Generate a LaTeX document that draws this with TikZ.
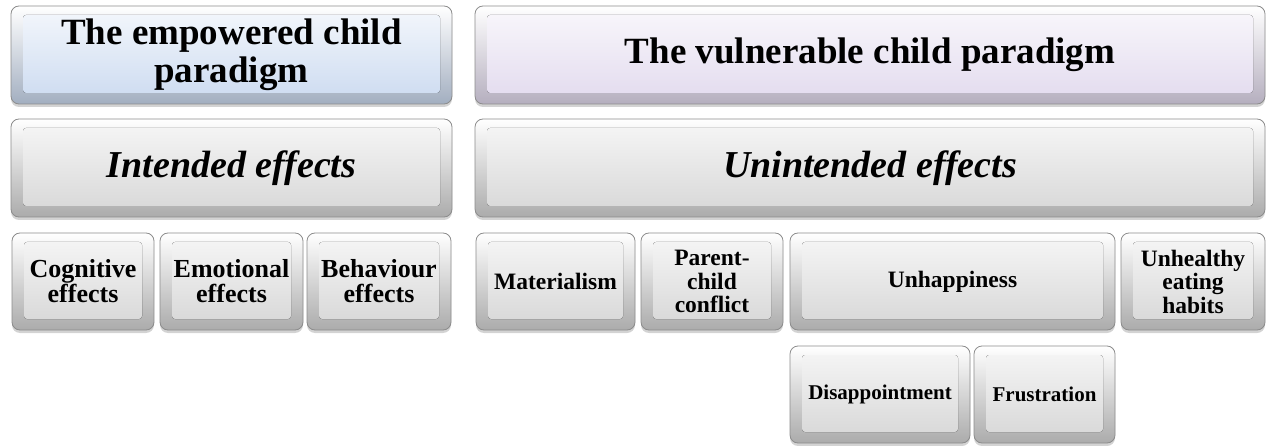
\documentclass[tikz,border=0pt]{standalone}
\usepackage{fontspec}
\setmainfont{Liberation Serif}
\usepackage{tikz}
\usetikzlibrary{shadows}

\definecolor{tilegray}{HTML}{D6D6D6}
\definecolor{tileblue}{HTML}{CBDAF0}
\definecolor{tilelilac}{HTML}{E2DAEE}

\newcommand\headfont{\fontsize{37pt}{38pt}\selectfont\bfseries}
\newcommand\subfont{\fontsize{38pt}{38pt}\selectfont\bfseries\itshape}
\newcommand\keyfont{\fontsize{26pt}{25pt}\selectfont\bfseries}
\newcommand\smallkeyfont{\fontsize{23.5pt}{23.5pt}\selectfont\bfseries}
\newcommand\tinykeyfont{\fontsize{21pt}{21pt}\selectfont\bfseries}

\begin{document}
\begin{tikzpicture}[x=1pt,y=-1pt,
    key/.style={rounded corners=8pt, draw=black!45, line width=.8pt,
      top color=white, bottom color=#1!80!black,
      drop shadow={shadow xshift=0pt, shadow yshift=-3pt, opacity=.35},
      inner sep=0pt, align=center,
      path picture={\fill[rounded corners=3pt, top color=#1!20!white, bottom color=#1]
        ([shift={(12pt,-9pt)}]path picture bounding box.north west) rectangle
        ([shift={(-12pt,11pt)}]path picture bounding box.south east);}},
    wide/.style={minimum width=#1pt, minimum height=98pt},
    tile/.style={minimum width=#1pt, minimum height=97pt}]
  \useasboundingbox (0,0) rectangle (1268,446);

  % the two paradigms
  \node (emp) at (231.5,55) [key=tileblue, wide=441, font=\headfont] {The empowered child\\paradigm};
  \node (vul) at (870,55) [key=tilelilac, wide=790, font=\headfont] {The vulnerable child paradigm};
  \node (int) at (231.5,168) [key=tilegray, wide=441, font=\subfont] {Intended effects};
  \node (unint) at (870,168) [key=tilegray, wide=790, font=\subfont] {Unintended effects};

  % intended effects
  \foreach \n/\x/\w/\t in {cog/83/142/Cognitive, emo/231.5/143/Emotional, beh/379/144/Behaviour} {
    \node (\n) at (\x,281.5) [key=tilegray, tile=\w, font=\keyfont] {\t\\effects};
  }

  % unintended effects
  \node (mat) at (555.5,281.5) [key=tilegray, tile=159, font=\smallkeyfont] {Materialism};
  \node (par) at (712,281.5) [key=tilegray, tile=142, font=\smallkeyfont] {Parent-\\child\\conflict};
  \node (unh) at (952.5,281.5) [key=tilegray, tile=325, font=\smallkeyfont] {Unhappiness};
  \node (uhe) at (1193,281.5) [key=tilegray, tile=144, font=\smallkeyfont] {Unhealthy\\eating\\habits};
  \node (dis) at (880,394.5) [key=tilegray, tile=180, font=\tinykeyfont] {Disappointment};
  \node (fru) at (1044.5,394.5) [key=tilegray, tile=141, font=\tinykeyfont] {Frustration};

\end{tikzpicture}
\end{document}
